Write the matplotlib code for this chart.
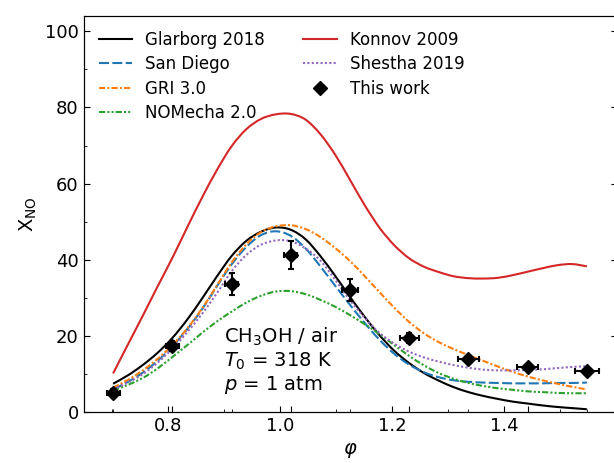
import matplotlib
matplotlib.use("Agg")
import matplotlib.pyplot as plt
from matplotlib.ticker import FixedLocator, MultipleLocator, FormatStrFormatter
from matplotlib.path import Path
from matplotlib.patches import PathPatch

# equivalence ratio grid for model curves
phi = [0.700, 0.725, 0.750, 0.775, 0.800, 0.825, 0.850, 0.875, 0.900, 0.925, 0.950,
       0.975, 1.000, 1.025, 1.050, 1.075, 1.100, 1.125, 1.150, 1.175, 1.200, 1.225,
       1.250, 1.275, 1.300, 1.325, 1.350, 1.375, 1.400, 1.425, 1.450, 1.475, 1.500]

glarborg = [7.5, 9.7, 12.4, 15.6, 19.5, 24.3, 29.8, 35.6, 41.0, 45.0, 47.4,
            48.5, 47.9, 45.4, 41.0, 35.8, 30.3, 25.0, 20.2, 16.1, 12.9, 10.3,
            8.3, 6.6, 5.3, 4.3, 3.5, 2.8, 2.3, 1.8, 1.4, 1.1, 0.8]
san_diego = [6.0, 8.0, 10.4, 13.5, 17.3, 21.8, 27.0, 33.0, 38.8, 43.4, 46.5,
             47.5, 46.3, 43.0, 38.3, 33.2, 28.2, 23.4, 19.0, 15.3, 12.5, 10.5,
             9.2, 8.4, 8.0, 7.8, 7.7, 7.6, 7.6, 7.6, 7.7, 7.7, 7.8]
gri30 = [6.5, 8.5, 11.0, 14.0, 17.6, 22.0, 27.2, 33.2, 39.3, 44.1, 47.3,
         48.8, 49.1, 48.1, 46.0, 43.1, 39.7, 35.7, 31.5, 27.4, 23.7, 20.7,
         18.4, 16.6, 15.0, 13.5, 12.0, 10.6, 9.4, 8.4, 7.5, 6.7, 6.0]
nomecha = [5.7, 7.2, 9.0, 11.5, 14.5, 17.6, 20.8, 23.8, 26.4, 28.8, 30.6,
           31.7, 31.8, 31.0, 29.5, 27.7, 25.5, 23.1, 20.5, 17.6, 14.8, 12.3,
           10.3, 8.8, 7.7, 6.9, 6.3, 5.9, 5.5, 5.3, 5.1, 5.0, 5.0]
konnov = [10.2, 17.8, 25.3, 33.0, 40.5, 48.5, 56.3, 63.5, 69.8, 74.3, 77.0,
          78.2, 78.3, 76.8, 73.0, 67.6, 61.0, 54.3, 48.4, 43.8, 40.4, 38.2,
          36.8, 35.7, 35.2, 35.1, 35.3, 36.0, 36.9, 37.8, 38.6, 38.9, 38.3]
shestha = [6.0, 7.8, 10.0, 13.0, 16.7, 21.0, 25.8, 31.2, 37.0, 41.3, 44.0,
           45.1, 44.9, 43.0, 39.8, 34.8, 29.4, 24.8, 20.8, 18.0, 15.9, 14.4,
           13.3, 12.4, 11.7, 11.2, 11.0, 11.0, 11.1, 11.3, 11.6, 11.9, 12.1]

# experiment
exp_phi = [0.7, 0.8, 0.9, 1.0, 1.1, 1.2, 1.3, 1.4, 1.5]
exp_x = [5.0, 17.3, 33.7, 41.2, 32.1, 19.5, 13.9, 11.8, 10.9]
exp_xerr = [0.011, 0.011, 0.011, 0.011, 0.014, 0.016, 0.017, 0.018, 0.020]
exp_yerr = [1.0, 1.3, 2.8, 3.7, 2.8, 1.2, 0.8, 0.7, 0.7]

bottom_major = [0.8, 1.0, 1.2, 1.4]
bottom_minor = [0.7, 0.9, 1.1, 1.3, 1.5]
y_major = [0, 20, 40, 60, 80, 100]


def smooth_path(xs, ys):
    """Path through every data point, joined by Catmull-Rom (cubic Bezier) segments."""
    pts = list(zip(xs, ys))
    verts = [pts[0]]
    codes = [Path.MOVETO]
    n = len(pts)
    for i in range(n - 1):
        p0 = pts[max(i - 1, 0)]
        p1 = pts[i]
        p2 = pts[i + 1]
        p3 = pts[min(i + 2, n - 1)]
        c1 = (p1[0] + (p2[0] - p0[0]) / 6.0, p1[1] + (p2[1] - p0[1]) / 6.0)
        c2 = (p2[0] - (p3[0] - p1[0]) / 6.0, p2[1] - (p3[1] - p1[1]) / 6.0)
        verts += [c1, c2, p2]
        codes += [Path.CURVE4] * 3
    return Path(verts, codes)


W, H = 614, 463
fig = plt.figure(figsize=(W / 100, H / 100), dpi=100)
left, right, bottom, top = 83.5, 616.5, 412.3, 16.0
ax = fig.add_axes([left / W, (H - bottom) / H, (right - left) / W, (bottom - top) / H])

lw = 1.5
series = [
    (glarborg, "black", "-", "Glarborg 2018"),
    (san_diego, "#1f77b4", (0, (4.8, 1.6)), "San Diego"),
    (gri30, "#ff7f0e", (0, (3, 1, 1, 1)), "GRI 3.0"),
    (nomecha, "#2ca02c", (0, (3, 1, 1, 1, 1, 1)), "NOMecha 2.0"),
    (konnov, "#d62728", "-", "Konnov 2009"),
    (shestha, "#9467bd", (0, (1, 1.1)), "Shestha 2019"),
]
for ys, col, ls, lab in series:
    ax.add_patch(PathPatch(smooth_path(phi, ys), fill=False, edgecolor=col, lw=lw,
                           ls=ls, joinstyle="round", zorder=2))
    ax.plot([], [], color=col, lw=lw, ls=ls, label=lab)

ax.errorbar(exp_phi, exp_x, xerr=exp_xerr, yerr=exp_yerr, fmt="none", ecolor="black",
            elinewidth=1.5, capsize=2.5, capthick=1.5, zorder=5)
ax.plot(exp_phi, exp_x, ls="none", marker="D", ms=7, color="black", label="This work", zorder=6)

ax.set_xlim(0.65, 1.55)
ax.set_ylim(0, 104)
ax.xaxis.set_major_locator(FixedLocator(bottom_major))
ax.xaxis.set_minor_locator(FixedLocator(bottom_minor))
ax.yaxis.set_major_locator(FixedLocator(y_major))
ax.yaxis.set_minor_locator(MultipleLocator(10))
ax.tick_params(axis="x", which="both", direction="in", bottom=False, top=True,
               labelbottom=False, labeltop=False)
ax.tick_params(axis="y", which="both", direction="in", left=True, right=True, labelsize=13)
ax.tick_params(which="major", length=4)
ax.tick_params(which="minor", length=2.5)
ax.set_ylabel(r"X$_\mathrm{NO}$", fontsize=14)

ax2 = ax.twiny()
ax2.set_xlim(0.65, 1.60)
ax2.xaxis.set_ticks_position("bottom")
ax2.xaxis.set_label_position("bottom")
ax2.xaxis.set_major_locator(FixedLocator(bottom_major))
ax2.xaxis.set_minor_locator(FixedLocator(bottom_minor))
ax2.xaxis.set_major_formatter(FormatStrFormatter("%.1f"))
ax2.tick_params(axis="x", which="both", direction="in", top=False, bottom=True,
                labelbottom=True, labeltop=False, labelsize=13)
ax2.tick_params(which="major", length=4)
ax2.tick_params(which="minor", length=2.5)
ax2.set_xlabel(r"$\varphi$", fontsize=14)

ax.legend(ncol=2, loc="upper left", frameon=False, fontsize=12, handlelength=2.0,
          columnspacing=2.3, labelspacing=0.38)

ax.text(0.2636, 0.218, "CH$_3$OH / air\n$T_0$ = 318 K\n$p$ = 1 atm",
        transform=ax.transAxes, fontsize=14, va="top", ha="left", linespacing=1.15)

fig.savefig("out.png", dpi=100)
